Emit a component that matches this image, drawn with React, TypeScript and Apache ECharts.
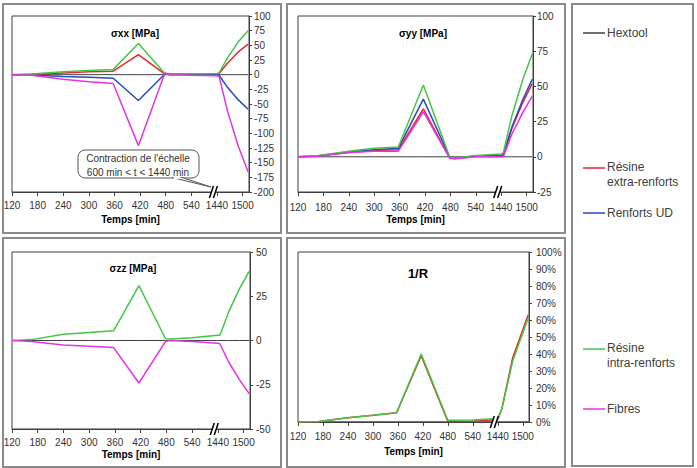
import React, { useEffect, useRef } from "react";
import * as echarts from "echarts";

// ---- data (time in minutes; the axis compresses 600..1440) ----
const timesMin = [120, 165, 240, 300, 357, 416, 478, 490, 540, 1440, 1445, 1465, 1490, 1513];

const xxResineExtra = [0, 0.5, 3, 5, 6, 34, 1, 0, 0.5, 1, 2, 20, 39, 52];
const xxRenfortsUD = [0, -0.5, -3, -4.5, -6, -44, 1, 1, 0.5, 0, -1, -22, -43, -59];
const xxResineIntra = [0, 1, 5, 7, 9, 53, 2, 0.5, 1.5, 2, 3, 29, 56, 75];
const xxFibres = [0, -1, -8, -12, -15, -121, 3, 0, -1, -2, -3, -63, -122, -166];

const yyResineExtra = [0, 0.5, 3, 4.5, 5, 34, -0.5, -1, 0.5, 1, 1, 20, 38, 52];
const yyRenfortsUD = [0, 0.5, 3.5, 5, 6, 41, 0, -1, 0.5, 1, 1.5, 21, 40, 55];
const yyResineIntra = [0, 0.7, 4, 6, 7, 51, 0, -1, 1, 2, 3, 29, 54, 73];
const yyFibres = [0, 0.3, 3, 4, 4, 32, -1, -1.5, 0, 0, 0, 16, 31, 43];

const zzResineIntra = [0, 0.5, 3.5, 4.5, 5.5, 31, 1, 0.8, 1.5, 3, 3, 16, 29, 39];
const zzFibres = [0, -0.5, -2.5, -3.3, -4, -24, -0.5, 0, -0.5, -1.5, -2, -12, -22, -30];

const timesR = [120, 170, 240, 300, 357, 416, 480, 540, 1440, 1450, 1476, 1513];
const rResineExtra = [0, 0.3, 2.5, 4, 5.5, 39, 0.3, 0.5, 1.5, 8, 38, 63];
const rResineIntra = [0, 0.3, 2.5, 4, 5.5, 40, 1, 1.2, 2, 8, 36, 61];

const xTickLabels = [120, 180, 240, 300, 360, 420, 480, 540, 1440, 1500];
const breakAxisPos = 594;

const legendNames = ["Hextool", "Résine\nextra-renforts", "Renforts UD", "Résine\nintra-renforts", "Fibres"];

const COL = {
  hextool: "#404040",
  extra: "#e8282c",
  ud: "#2a48c0",
  intra: "#44c644",
  fibres: "#e632e6",
};

const FONT = '"Liberation Sans", Arial, sans-serif';

const toAxis = (t: number) => (t >= 1440 ? t - 840 : t);
const fromAxis = (v: number) => (v >= 600 ? v + 840 : v);

export default function App() {
  const ref = useRef<HTMLDivElement>(null);
  useEffect(() => {
    if (!ref.current) return;
    const chart = echarts.init(ref.current, undefined, { renderer: "svg" });

    const grids = [
      { left: 12, top: 16, width: 237, height: 176 },
      { left: 298, top: 16, width: 235, height: 176 },
      { left: 12, top: 252, width: 238, height: 177 },
      { left: 298, top: 252, width: 231, height: 170 },
    ];
    const yCfg = [
      { min: -200, max: 100, interval: 25, margin: 5, fmt: "{value}" },
      { min: -25, max: 100, interval: 25, margin: 4, fmt: "{value}" },
      { min: -50, max: 50, interval: 25, margin: 6, fmt: "{value}" },
      { min: 0, max: 100, interval: 10, margin: 7, fmt: "{value}%" },
    ];
    const xCfg = [
      { margin: 8, gap: 22 },
      { margin: 10, gap: 22 },
      { margin: 8, gap: 20 },
      { margin: 9, gap: 24 },
    ];
    const tickVals = xTickLabels.map(toAxis);

    const line = (name: string, times: number[], vals: number[], color: string, idx: number, width = 1.5) => ({
      type: "line",
      name,
      xAxisIndex: idx,
      yAxisIndex: idx,
      data: times.map((t, i) => [toAxis(t), vals[i]]),
      symbol: "none",
      silent: true,
      lineStyle: { color, width },
      itemStyle: { color },
    });

    const breakSeries = (idx: number) => ({
      type: "custom",
      xAxisIndex: idx,
      yAxisIndex: idx,
      silent: true,
      clip: false,
      z: 10,
      data: [[breakAxisPos, yCfg[idx].min]],
      renderItem: (_p: any, api: any) => {
        const pt = api.coord([api.value(0), api.value(1)]);
        const cx = pt[0];
        const cy = pt[1];
        return {
          type: "group",
          children: [
            {
              type: "polygon",
              shape: { points: [[cx - 5, cy + 6], [cx - 1, cy - 6], [cx + 3, cy - 6], [cx - 1, cy + 6]] },
              style: { fill: "#fff" },
            },
            { type: "line", shape: { x1: cx - 5, y1: cy + 6, x2: cx - 1, y2: cy - 6 }, style: { stroke: "#000", lineWidth: 1.5 } },
            { type: "line", shape: { x1: cx - 1, y1: cy + 6, x2: cx + 3, y2: cy - 6 }, style: { stroke: "#000", lineWidth: 1.5 } },
          ],
        };
      },
    });

    const zeros = timesMin.map(() => 0);
    const zerosR = timesR.map(() => 0);

    const series: any[] = [
      line(legendNames[0], timesMin, zeros, COL.hextool, 0, 1),
      line(legendNames[1], timesMin, xxResineExtra, COL.extra, 0),
      line(legendNames[2], timesMin, xxRenfortsUD, COL.ud, 0),
      line(legendNames[3], timesMin, xxResineIntra, COL.intra, 0),
      line(legendNames[4], timesMin, xxFibres, COL.fibres, 0),
      line(legendNames[0], timesMin, zeros, COL.hextool, 1, 1),
      line(legendNames[1], timesMin, yyResineExtra, COL.extra, 1),
      line(legendNames[2], timesMin, yyRenfortsUD, COL.ud, 1),
      line(legendNames[3], timesMin, yyResineIntra, COL.intra, 1),
      line(legendNames[4], timesMin, yyFibres, COL.fibres, 1),
      line(legendNames[0], timesMin, zeros, COL.hextool, 2, 1),
      line(legendNames[3], timesMin, zzResineIntra, COL.intra, 2),
      line(legendNames[4], timesMin, zzFibres, COL.fibres, 2),
      line(legendNames[0], timesR, zerosR, COL.hextool, 3, 1),
      line(legendNames[1], timesR, rResineExtra, COL.extra, 3),
      line(legendNames[3], timesR, rResineIntra, COL.intra, 3),
      breakSeries(0),
      breakSeries(1),
      breakSeries(2),
      breakSeries(3),
    ];

    const panelRect = (x: number, y: number, w: number, h: number) => ({
      type: "rect",
      shape: { x, y, width: w, height: h },
      style: { fill: "none", stroke: "#8a8a8a", lineWidth: 2 },
      silent: true,
    });
    const txt = (text: string, x: number, y: number, size: number, bold: boolean, align = "center", color = "#000") => ({
      type: "text",
      x,
      y,
      silent: true,
      z: 101,
      style: {
        text,
        fill: color,
        fontSize: size,
        fontWeight: bold ? "bold" : "normal",
        fontFamily: FONT,
        align,
        verticalAlign: "middle",
        textAlign: align,
        textVerticalAlign: "middle",
      },
    });
    const legLine = (y: number, color: string) => ({
      type: "line",
      shape: { x1: 583, y1: y, x2: 605, y2: y },
      style: { stroke: color, lineWidth: 1.5 },
      silent: true,
    });

    const graphic: any[] = [
      panelRect(3, 4, 278, 229),
      panelRect(287, 4, 278, 229),
      panelRect(3, 238, 278, 229),
      panelRect(287, 238, 278, 229),
      panelRect(572, 4, 121, 462),
      txt("σxx [MPa]", 135, 33, 10, true),
      txt("σyy [MPa]", 423, 33, 10, true),
      txt("σzz [MPa]", 133, 268, 10, true),
      txt("1/R", 418, 273, 13, true),
      legLine(33, COL.hextool),
      txt(legendNames[0], 607, 33, 12, false, "left", "#404040"),
      legLine(168, COL.extra),
      txt("Résine", 607, 167, 12, false, "left", "#404040"),
      txt("extra-renforts", 607, 182, 12, false, "left", "#404040"),
      legLine(213, COL.ud),
      txt(legendNames[2], 607, 213, 12, false, "left", "#404040"),
      legLine(349, COL.intra),
      txt("Résine", 607, 348, 12, false, "left", "#404040"),
      txt("intra-renforts", 607, 363, 12, false, "left", "#404040"),
      legLine(409, COL.fibres),
      txt(legendNames[4], 607, 409, 12, false, "left", "#404040"),
      {
        type: "rect",
        z: 100,
        silent: true,
        shape: { x: 78, y: 150, width: 121, height: 28, r: 7 },
        style: { fill: "#fff", stroke: "#555", lineWidth: 1 },
      },
      {
        type: "polygon",
        z: 100,
        silent: true,
        shape: { points: [[172, 177.5], [211, 187], [182, 177.5]] },
        style: { fill: "#fff", stroke: "#555", lineWidth: 1 },
      },
      {
        type: "line",
        z: 100,
        silent: true,
        shape: { x1: 173.5, y1: 178, x2: 180.5, y2: 178 },
        style: { stroke: "#fff", lineWidth: 2 },
      },
      txt("Contraction de l'échelle", 138, 158, 10, false, "center", "#333"),
      txt("600 min < t < 1440 min", 138, 172, 10, false, "center", "#333"),
    ];

    chart.setOption({
      animation: false,
      textStyle: { fontFamily: FONT },
      grid: grids.map((g) => ({ ...g, show: true, borderColor: "#404040", borderWidth: 1, backgroundColor: "transparent" })),
      xAxis: grids.map((_, i) => ({
        type: "value",
        gridIndex: i,
        min: 120,
        max: 675,
        interval: 60,
        name: "Temps [min]",
        nameLocation: "middle",
        nameGap: xCfg[i].gap,
        nameTextStyle: { fontWeight: "bold", fontSize: 10, color: "#000", fontFamily: FONT },
        axisLine: { show: true, onZero: false, lineStyle: { color: "#404040", width: 1 } },
        axisTick: { show: true, inside: false, length: 4, customValues: tickVals, lineStyle: { color: "#404040" } },
        axisLabel: {
          show: true,
          margin: xCfg[i].margin,
          fontSize: 10,
          color: "#333",
          fontFamily: FONT,
          customValues: tickVals,
          formatter: (v: number) => String(fromAxis(v)),
        },
        splitLine: { show: false },
      })),
      yAxis: grids.map((_, i) => ({
        type: "value",
        gridIndex: i,
        position: "right",
        min: yCfg[i].min,
        max: yCfg[i].max,
        interval: yCfg[i].interval,
        axisLine: { show: true, onZero: false, lineStyle: { color: "#404040", width: 1 } },
        axisTick: { show: true, inside: false, length: 3, lineStyle: { color: "#404040" } },
        axisLabel: { margin: yCfg[i].margin, fontSize: 10, color: "#333", fontFamily: FONT, formatter: yCfg[i].fmt },
        splitLine: { show: false },
      })),
      series,
      graphic,
    });

    return () => chart.dispose();
  }, []);

  return (
    <div
      ref={ref}
      style={{ position: "fixed", left: 0, top: 0, width: 697, height: 468, background: "#fff" }}
    />
  );
}
